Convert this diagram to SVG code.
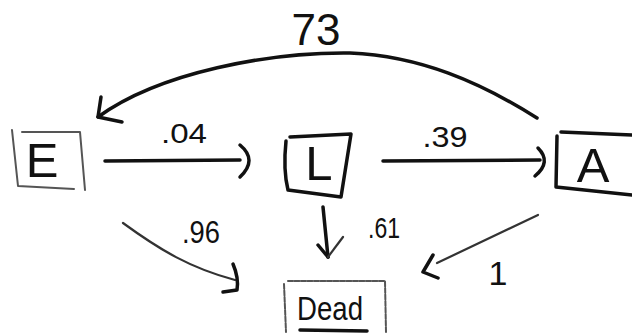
<svg xmlns="http://www.w3.org/2000/svg" width="632" height="333" viewBox="0 0 632 333">
<style>
.bg{fill:#ffffff}
.box{fill:none;stroke:#111;stroke-linecap:round;stroke-linejoin:round}
.faint{stroke:#555;stroke-width:2}
.bold{stroke-width:3.5}
.edge{fill:none;stroke:#111;stroke-linecap:round;stroke-linejoin:round;stroke-width:3.5}
.thin{stroke-width:2.2;stroke:#333}
.lbl{font-family:"Liberation Sans","DejaVu Sans",sans-serif;fill:#111;text-anchor:middle}
.node{font-family:"Liberation Sans","DejaVu Sans",sans-serif;fill:#111;text-anchor:middle;font-size:49px}
</style>
<rect class="bg" x="0" y="0" width="632" height="333"/>
<g id="connectors">
  <g id="e-to-l">
    <path class="edge" d="M105,161 L240,160"/>
    <path class="edge" d="M240,145 Q258,160 240,177"/>
  </g>
  <g id="l-to-a">
    <path class="edge" d="M383,161 L540,160"/>
    <path class="edge" d="M538,148 Q552,162 535,176"/>
  </g>
  <g id="a-to-e">
    <path class="edge" d="M537,118 C480,82 420,56 350,53 C270,52 160,72 98,117"/>
    <path class="edge" d="M101,97 L98,117 L122,122"/>
  </g>
  <g id="e-to-dead">
    <path class="edge thin" d="M123,223 C160,250 190,268 235,280"/>
    <path class="edge" d="M233,264 Q239,278 237,290 L223,292"/>
  </g>
  <g id="l-to-dead">
    <path class="edge" d="M323,207 L328,257"/>
    <path class="edge" stroke-width="2.5" d="M318,245 L328,257"/>
    <path class="edge thin" stroke-width="1.2" d="M328,257 L343,237"/>
  </g>
  <g id="a-to-dead">
    <path class="edge thin" d="M538,215 L437,263"/>
    <path class="edge" stroke-width="4" d="M433,255 L423,272 L438,278"/>
  </g>
</g>
<g id="labels">
  <text class="lbl" x="316" y="45" font-size="44">73</text>
  <text class="lbl" x="184" y="143" font-size="28" textLength="46" lengthAdjust="spacingAndGlyphs">.04</text>
  <text class="lbl" x="445" y="147" font-size="30" textLength="45" lengthAdjust="spacingAndGlyphs">.39</text>
  <text class="lbl" x="201" y="243" font-size="31" textLength="38" lengthAdjust="spacingAndGlyphs">.96</text>
  <text class="lbl" x="384" y="238" font-size="30" textLength="32" lengthAdjust="spacingAndGlyphs">.61</text>
  <text class="lbl" x="498" y="285" font-size="34">1</text>
</g>
<g id="node-E">
  <path class="box faint" d="M12,130 L18,186 L74,189 M22,132 L80,132 L85,190"/>
  <text class="node" x="42" y="177">E</text>
</g>
<g id="node-L">
  <path class="box bold" d="M286,141 Q283,170 288,190 L341,197 L351,134 L290,137"/>
  <text class="node" x="319" y="180">L</text>
</g>
<g id="node-A">
  <path class="box bold" d="M557,136 L556,187 L632,195 M561,132 L632,135"/>
  <text class="node" x="593" y="182" font-size="51">A</text>
</g>
<g id="node-Dead">
  <path class="box faint" stroke-dasharray="5 1.5" d="M284,284 L286,332 M288,281 L385,281 L386,332"/>
  <text class="lbl" x="330" y="320" font-size="34" textLength="66" lengthAdjust="spacingAndGlyphs">Dead</text>
  <path class="edge" stroke-width="2.5" d="M300,330 L367,331"/>
</g>
</svg>
